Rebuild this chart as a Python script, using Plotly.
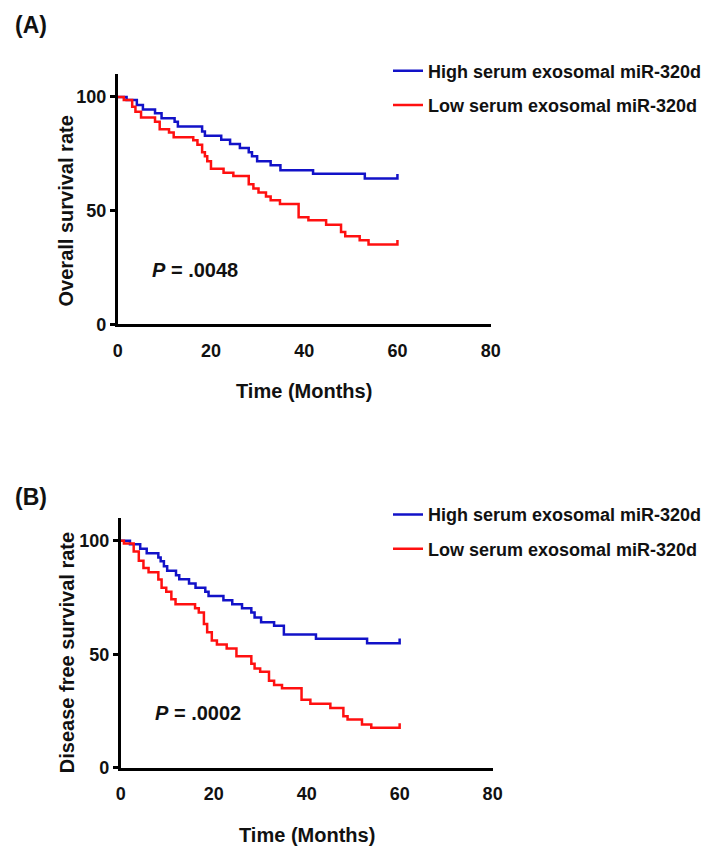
import plotly.graph_objects as go

# ---------------- data ----------------
FOLLOW_UP = 60  # months, end of follow-up

# (A) Overall survival
A_HIGH_T = [0, 1.9, 4.1, 5.4, 8.0, 9.4, 12.2, 12.9, 18.1, 18.7, 22.2, 24.1, 26.2,
            28.1, 28.8, 29.9, 32.8, 34.9, 41.9, 53.0]
A_HIGH_S = [100, 98.6, 96.4, 94.5, 92.8, 90.6, 89.1, 87.0, 84.8, 82.9, 81.2, 79.3,
            77.5, 75.7, 73.9, 71.7, 69.9, 67.8, 66.2, 64.1]
A_LOW_T = [0, 1.3, 3.1, 3.8, 5.0, 8.0, 9.0, 11.0, 12.0, 16.2, 17.1, 18.1, 18.7, 19.2,
           20.0, 22.7, 24.8, 28.1, 29.1, 30.2, 31.8, 32.8, 34.8, 38.8, 40.9, 44.7,
           47.9, 48.8, 51.9, 53.8]
A_LOW_S = [100, 98.6, 95.7, 93.5, 91.0, 89.1, 85.8, 84.3, 82.3, 80.9, 79.0, 75.7,
           73.9, 71.7, 68.4, 66.7, 65.2, 61.6, 59.7, 58.0, 56.2, 54.6, 52.9, 47.1,
           45.7, 43.8, 40.6, 38.7, 37.0, 35.1]

# (B) Disease free survival
B_HIGH_T = [0, 2.0, 4.2, 5.6, 8.1, 8.6, 9.3, 10.0, 11.9, 12.6, 14.7, 16.1, 18.2,
            18.9, 22.1, 24.0, 26.1, 28.1, 28.8, 30.2, 33.0, 35.1, 42.0, 53.0]
B_HIGH_S = [100, 98.4, 96.4, 94.5, 92.6, 90.9, 88.7, 86.8, 84.8, 83.0, 81.2, 79.3,
            77.5, 75.6, 73.8, 72.0, 70.3, 68.4, 66.2, 64.1, 62.6, 58.7, 56.8, 54.9]
B_LOW_T = [0, 0.7, 2.8, 3.9, 4.9, 6.0, 8.1, 8.8, 9.8, 10.9, 11.8, 16.0, 16.8, 17.9,
           18.6, 19.6, 20.7, 22.8, 24.9, 28.1, 28.8, 30.0, 31.9, 33.0, 34.7, 38.9,
           40.8, 45.1, 47.9, 48.8, 51.9, 53.9]
B_LOW_S = [100, 98.8, 95.2, 91.2, 88.0, 86.1, 82.9, 79.3, 77.5, 74.2, 72.0, 70.3,
           68.4, 63.3, 59.7, 56.1, 54.3, 52.5, 49.1, 45.9, 43.8, 42.3, 38.4, 36.5,
           35.1, 30.0, 28.3, 26.4, 22.8, 21.3, 19.1, 17.7]

SERIES_NAMES = ["High serum exosomal miR-320d", "Low serum exosomal miR-320d"]
P_VALUES = ["P = .0048", "P = .0002"]
Y_TITLES = ["Overall survival rate", "Disease free survival rate"]
X_TITLE = "Time (Months)"
PANEL_LABELS = ["(A)", "(B)"]
X_TICKS = [0, 20, 40, 60, 80]
Y_TICKS = [0, 50, 100]

# ---------------- styling ----------------
BLUE = "#1212c8"
RED = "#ff1010"
FONT = "Liberation Sans, Arial, sans-serif"
CENSOR_H = 2.0  # height of end-of-follow-up censor tick (data units)

W, H = 709, 850


def km_xy(t, s):
    x = list(t) + [FOLLOW_UP, FOLLOW_UP]
    y = list(s) + [s[-1], s[-1] + CENSOR_H]
    return x, y


fig = go.Figure()

panels = [
    (A_HIGH_T, A_HIGH_S, A_LOW_T, A_LOW_S, "x", "y", "legend"),
    (B_HIGH_T, B_HIGH_S, B_LOW_T, B_LOW_S, "x2", "y2", "legend2"),
]
for ht, hs, lt, ls, xa, ya, lg in panels:
    for (t, s), name, col in zip([(ht, hs), (lt, ls)], SERIES_NAMES, [BLUE, RED]):
        x, y = km_xy(t, s)
        fig.add_trace(go.Scatter(
            x=x, y=y, mode="lines", name=name, line=dict(color=col, width=2.5, shape="hv"),
            xaxis=xa, yaxis=ya, legend=lg, legendgroup=name + lg, cliponaxis=False,
        ))


def px_x(p):
    return p / W


def px_y(p):
    return 1 - p / H


axis_common = dict(
    showgrid=False, zeroline=False, showline=True, linecolor="black", linewidth=2.8,
    tickfont=dict(family=FONT, size=18, color="#111", weight="bold"),
)

legend_common = dict(xanchor="right", yanchor="top",
                     font=dict(family=FONT, size=18, color="#111", weight="bold"),
                     bgcolor="rgba(0,0,0,0)", tracegroupgap=8, itemwidth=30)

fig.update_layout(
    width=W, height=H, margin=dict(l=0, r=0, t=0, b=0),
    paper_bgcolor="white", plot_bgcolor="white",
    font=dict(family=FONT, color="#111"),
    showlegend=True,
    xaxis=dict(domain=[px_x(107), px_x(488)], range=[0, 80], tickvals=X_TICKS,
               ticks="outside", ticklen=8, tickcolor="rgba(0,0,0,0)", anchor="y", **axis_common),
    yaxis=dict(domain=[px_y(320), px_y(67)], range=[0, 110], tickvals=Y_TICKS,
               ticks="outside", ticklen=5, tickwidth=2.5, tickcolor="black", anchor="x", **axis_common),
    xaxis2=dict(domain=[px_x(110), px_x(490)], range=[0, 80], tickvals=X_TICKS,
                ticks="outside", ticklen=8, tickcolor="rgba(0,0,0,0)", anchor="y2", **axis_common),
    yaxis2=dict(domain=[px_y(769), px_y(516)], range=[0, 110], tickvals=Y_TICKS,
                ticks="outside", ticklen=5, tickwidth=2.5, tickcolor="black", anchor="x2", **axis_common),
    legend=dict(x=1, y=px_y(45), **legend_common),
    legend2=dict(x=1, y=px_y(494), **legend_common),
)

annotations = []
for pv, xr, yr in zip(P_VALUES, ["x", "x2"], ["y", "y2"]):
    txt = "<b><i>P</i>" + pv[1:] + "</b>"
    annotations.append(dict(text=txt, x=6.9, y=24, xref=xr, yref=yr, xanchor="left",
                            yanchor="middle", showarrow=False,
                            font=dict(family=FONT, size=20, color="#111")))
for yt, xc, yc in zip(Y_TITLES, [54, 56], [205, 652]):
    annotations.append(dict(text="<b>" + yt + "</b>", x=px_x(xc), y=px_y(yc), xref="paper",
                            yref="paper", textangle=-90, showarrow=False,
                            xanchor="center", yanchor="middle",
                            font=dict(family=FONT, size=20, color="#111")))
for xc, yc in zip([297.5, 300], [388, 837]):
    annotations.append(dict(text="<b>" + X_TITLE + "</b>", x=px_x(xc), y=px_y(yc),
                            xref="paper", yref="paper", showarrow=False,
                            xanchor="center", yanchor="middle",
                            font=dict(family=FONT, size=20, color="#111")))
for lab, yc in zip(PANEL_LABELS, [17, 495]):
    annotations.append(dict(text="<b>" + lab + "</b>", x=0, y=px_y(yc), xref="paper",
                            yref="paper", showarrow=False, xanchor="left", yanchor="middle",
                            font=dict(family=FONT, size=23, color="#111")))
fig.update_layout(annotations=annotations)

fig.write_html("out.html")
